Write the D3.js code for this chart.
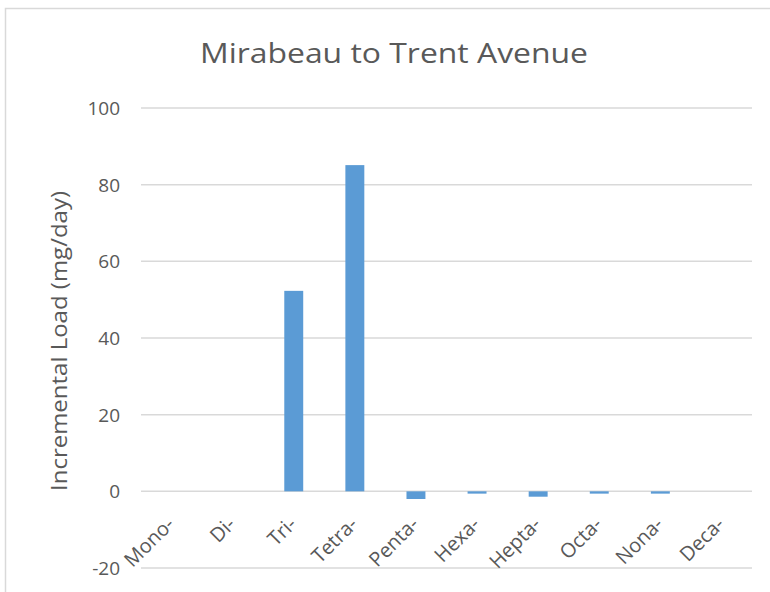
<!DOCTYPE html>
<html><head><meta charset="utf-8">
<script src="https://cdn.jsdelivr.net/npm/d3@7"></script>
<style>body{margin:0;background:#fff}svg{display:block}</style>
</head><body>
<svg id="c" width="770" height="592"></svg>
<script>
const categories = ["Mono-","Di-","Tri-","Tetra-","Penta-","Hexa-","Hepta-","Octa-","Nona-","Deca-"];
const values = [0, 0, 52.3, 85.1, -2.0, -0.6, -1.4, -0.6, -0.6, 0];
const yTicks = [-20, 0, 20, 40, 60, 80, 100];
const title = "Mirabeau to Trent Avenue";
const yTitle = "Incremental Load (mg/day)";

const svg = d3.select("#c");
const font = "'Open Sans', sans-serif";
const txt = "#595959";
const grid = "#d9d9d9";

svg.append("rect").attr("x",5.5).attr("y",8.5).attr("width",800).attr("height",700)
  .attr("fill","#fff").attr("stroke","#d9d9d9").attr("stroke-width",1.5);

const x = d3.scaleBand().domain(categories).range([141, 752]).paddingInner(0.69).paddingOuter(0.345);
const y = d3.scaleLinear().domain([-20, 100]).range([568, 108]);

svg.append("g").selectAll("line").data(yTicks).join("line")
  .attr("x1",141).attr("x2",752).attr("y1",d=>y(d)).attr("y2",d=>y(d))
  .attr("stroke",grid).attr("stroke-width",1.5);

svg.append("g").selectAll("rect").data(values).join("rect")
  .attr("x",(d,i)=>x(categories[i]))
  .attr("width",x.bandwidth())
  .attr("y",d=>y(Math.max(0,d)))
  .attr("height",d=>Math.abs(y(d)-y(0)))
  .attr("fill","#5b9bd5");

svg.append("g").selectAll("text").data(yTicks).join("text")
  .attr("x",120).attr("y",d=>y(d)).attr("dy","0.36em")
  .attr("text-anchor","end").attr("font-family",font).attr("font-size",19).attr("fill",txt)
  .text(d=>d);

const xc = d3.scaleBand().domain(categories).range([141,752]);
svg.append("g").selectAll("text").data(categories).join("text")
  .attr("transform",d=>`translate(${xc(d)+xc.bandwidth()/2+4},${y(0)+34}) rotate(-45)`)
  .attr("text-anchor","end").attr("font-family",font).attr("font-size",20).attr("fill",txt)
  .text(d=>d);

svg.append("text").attr("x",394).attr("y",63).attr("text-anchor","middle")
  .attr("font-family",font).attr("font-size",28).attr("fill",txt)
  .attr("textLength",388).attr("lengthAdjust","spacingAndGlyphs").text(title);

svg.append("text").attr("transform","translate(67,341) rotate(-90)").attr("text-anchor","middle")
  .attr("font-family",font).attr("font-size",22).attr("fill",txt)
  .attr("textLength",300).attr("lengthAdjust","spacingAndGlyphs").text(yTitle);
</script>
</body></html>
